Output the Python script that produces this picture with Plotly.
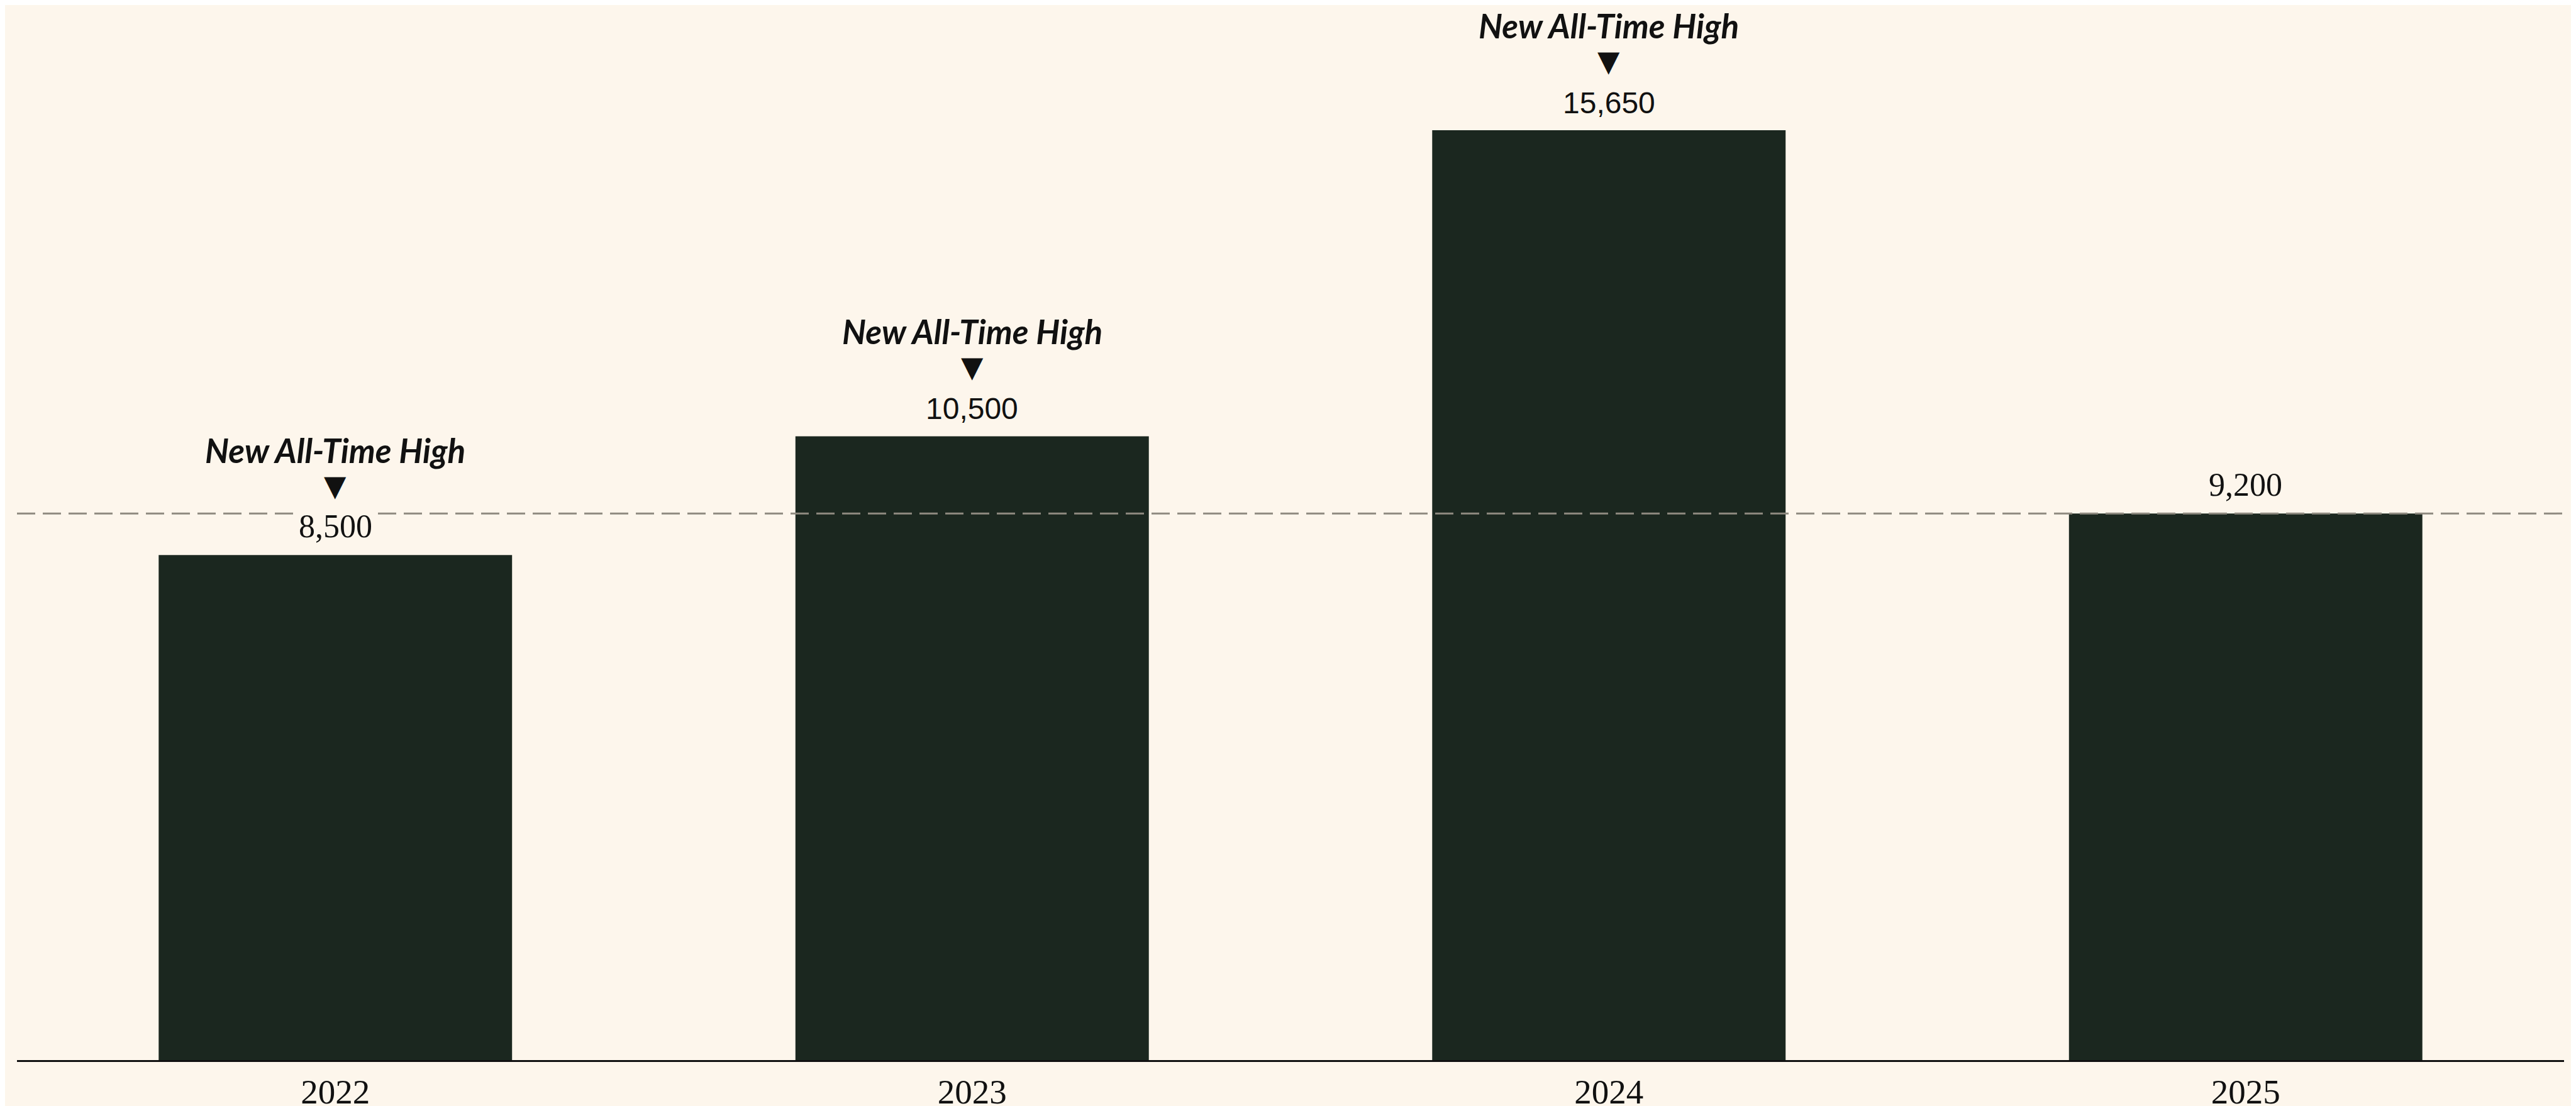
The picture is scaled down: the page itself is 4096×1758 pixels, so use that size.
import plotly.graph_objects as go

# ---- data ----
years = ["2022", "2023", "2024", "2025"]
values = [8500, 10500, 15650, 9200]
value_labels = ["8,500", "10,500", "15,650", "9,200"]
headlines = ["New All-Time High", "New All-Time High", "New All-Time High", ""]
reference_value = 9200
y_max = 17758

# ---- styles ----
BG = "#fdf6ec"
BAR = "#1b271f"
INK = "#111111"
value_fonts = ["Liberation Serif", "Liberation Sans", "Liberation Sans", "Liberation Serif"]
value_sizes = [52, 48, 48, 52]

xpos = list(range(len(years)))

fig = go.Figure(
    go.Bar(
        x=xpos,
        y=values,
        width=0.555,
        marker=dict(color=BAR, line=dict(width=0)),
        hoverinfo="skip",
    )
)

fig.add_shape(
    type="line", xref="paper", x0=0, x1=1, yref="y",
    y0=reference_value, y1=reference_value,
    line=dict(color="#8f8a80", width=3, dash="29px,12px"),
    layer="above",
)

for xi, v, lab, head, fam, sz in zip(xpos, values, value_labels, headlines, value_fonts, value_sizes):
    fig.add_annotation(
        x=xi, y=v, text=lab, showarrow=False, yanchor="bottom", xanchor="center",
        yshift=12, font=dict(family=fam, size=sz, color=INK),
        bgcolor=BG, borderpad=4,
    )
    if head:
        fig.add_annotation(
            x=xi, y=v, text="▼", showarrow=False, yanchor="bottom", xanchor="center",
            yshift=81, font=dict(family="DejaVu Sans", size=46, color=INK),
        )
        fig.add_annotation(
            x=xi, y=v, text="<b><i>" + head + "</i></b>", showarrow=False,
            yanchor="bottom", xanchor="center", yshift=134, borderpad=0,
            font=dict(family="Lato", size=53, color=INK),
        )

fig.update_layout(
    width=4096, height=1758,
    margin=dict(l=19, r=27, t=0, b=73),
    paper_bgcolor=BG, plot_bgcolor=BG,
    showlegend=False,
    xaxis=dict(
        range=[-0.5, len(years) - 0.5],
        tickvals=xpos, ticktext=years,
        showline=True, linecolor=INK, linewidth=3, ticks="", showgrid=False,
        zeroline=False,
        tickfont=dict(family="Liberation Serif", size=55, color=INK),
    ),
    yaxis=dict(range=[0, y_max], visible=False, showgrid=False, zeroline=False),
)

fig.write_html("out.html")
